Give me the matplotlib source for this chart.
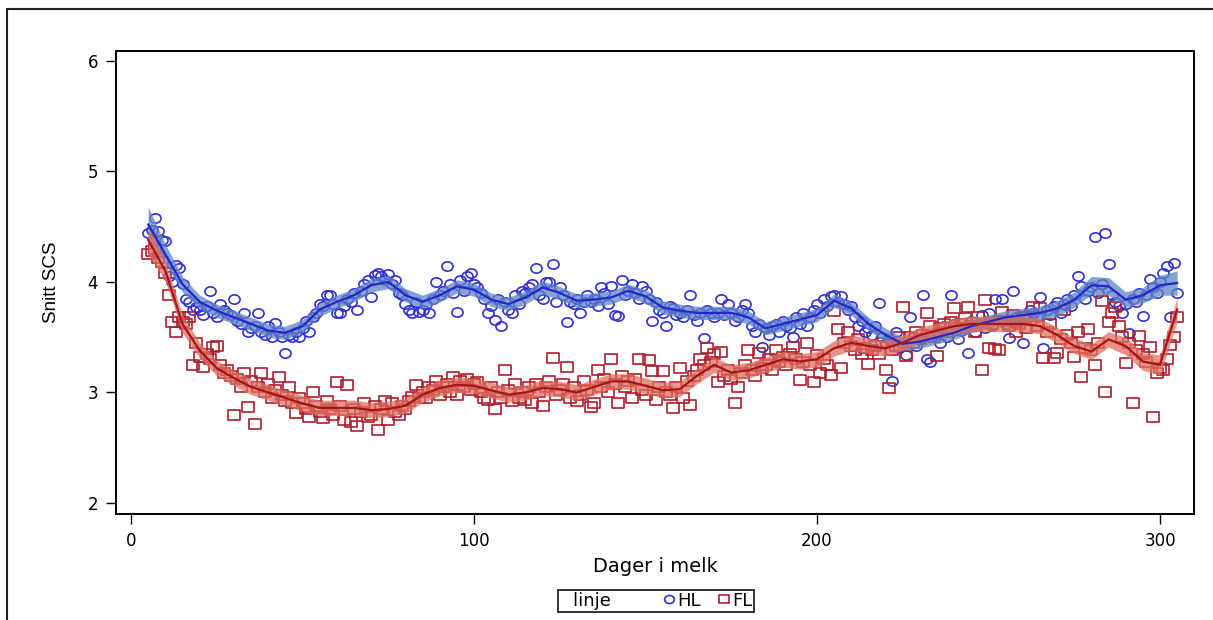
import numpy as np
import matplotlib.pyplot as plt
from matplotlib.lines import Line2D
from matplotlib.patches import Rectangle
from matplotlib.path import Path
from matplotlib.transforms import Affine2D

plt.rcParams['font.family'] = ['DejaVu Sans']

# days in milk, one mean per day
days = list(range(5, 306))

# HL group, daily mean SCS
hl_scs = [
    4.44, 4.47, 4.58, 4.46, 4.38, 4.37, 4.05, 4.00, 4.15, 4.13,
    3.98, 3.85, 3.82, 3.75, 3.77, 3.75, 3.70, 3.78, 3.92, 3.72,
    3.68, 3.80, 3.75, 3.72, 3.70, 3.85, 3.65, 3.62, 3.72, 3.55,
    3.58, 3.60, 3.72, 3.55, 3.52, 3.60, 3.50, 3.63, 3.55, 3.50,
    3.36, 3.52, 3.50, 3.55, 3.50, 3.58, 3.65, 3.55, 3.68, 3.72,
    3.80, 3.78, 3.88, 3.88, 3.80, 3.72, 3.72, 3.78, 3.85, 3.82,
    3.90, 3.75, 3.92, 3.98, 4.02, 3.86, 4.06, 4.08, 4.05, 4.02,
    4.07, 3.98, 4.02, 3.90, 3.88, 3.80, 3.75, 3.72, 3.82, 3.73,
    3.75, 3.80, 3.72, 3.85, 4.00, 3.88, 3.92, 4.14, 3.98, 3.90,
    3.73, 4.02, 3.92, 4.05, 4.08, 3.98, 3.95, 3.90, 3.85, 3.72,
    3.78, 3.66, 3.85, 3.60, 3.82, 3.75, 3.72, 3.88, 3.80, 3.92,
    3.90, 3.95, 3.98, 4.13, 3.88, 3.85, 4.00, 4.00, 4.16, 3.82,
    3.95, 3.88, 3.64, 3.82, 3.80, 3.85, 3.72, 3.82, 3.88, 3.82,
    3.85, 3.78, 3.95, 3.90, 3.80, 3.96, 3.70, 3.69, 4.02, 3.88,
    3.92, 3.98, 3.90, 3.85, 3.96, 3.92, 3.85, 3.65, 3.82, 3.75,
    3.72, 3.60, 3.78, 3.76, 3.70, 3.72, 3.68, 3.75, 3.88, 3.70,
    3.65, 3.72, 3.49, 3.75, 3.72, 3.68, 3.72, 3.85, 3.70, 3.80,
    3.72, 3.65, 3.68, 3.75, 3.80, 3.72, 3.60, 3.55, 3.62, 3.41,
    3.58, 3.52, 3.60, 3.62, 3.55, 3.65, 3.60, 3.58, 3.50, 3.68,
    3.62, 3.72, 3.60, 3.68, 3.75, 3.80, 3.72, 3.85, 3.78, 3.87,
    3.88, 3.82, 3.87, 3.80, 3.75, 3.78, 3.68, 3.60, 3.65, 3.55,
    3.58, 3.52, 3.60, 3.81, 3.50, 3.45, 3.48, 3.10, 3.55, 3.40,
    3.45, 3.34, 3.68, 3.50, 3.42, 3.48, 3.88, 3.30, 3.28, 3.52,
    3.55, 3.45, 3.60, 3.50, 3.88, 3.62, 3.48, 3.56, 3.58, 3.36,
    3.65, 3.55, 3.62, 3.70, 3.58, 3.72, 3.60, 3.85, 3.66, 3.85,
    3.62, 3.49, 3.92, 3.68, 3.65, 3.45, 3.70, 3.75, 3.72, 3.68,
    3.86, 3.40, 3.75, 3.70, 3.78, 3.82, 3.72, 3.80, 3.85, 3.78,
    3.88, 4.05, 3.96, 3.85, 3.92, 3.95, 4.41, 3.90, 3.98, 4.44,
    4.16, 3.88, 3.82, 3.78, 3.72, 3.80, 3.54, 3.85, 3.82, 3.90,
    3.69, 3.88, 4.03, 3.95, 3.90, 4.00, 4.08, 4.14, 3.68, 4.17,
    3.90,
]

# FL group, daily mean SCS
fl_scs = [
    4.25, 4.28, 4.30, 4.22, 4.18, 4.08, 3.88, 3.64, 3.55, 3.68,
    3.64, 3.62, 3.68, 3.25, 3.45, 3.32, 3.23, 3.35, 3.30, 3.41,
    3.42, 3.25, 3.18, 3.20, 3.15, 2.80, 3.12, 3.05, 3.18, 2.87,
    3.10, 2.71, 3.05, 3.18, 3.00, 3.08, 2.95, 3.02, 3.14, 2.98,
    2.92, 3.05, 2.90, 2.81, 2.95, 2.90, 2.85, 2.78, 3.00, 2.88,
    2.82, 2.77, 2.92, 2.85, 2.80, 3.09, 2.88, 2.75, 3.07, 2.73,
    2.85, 2.70, 2.82, 2.90, 2.78, 2.80, 2.88, 2.66, 2.85, 2.92,
    2.75, 2.90, 2.82, 2.80, 2.88, 2.85, 2.92, 2.96, 3.07, 2.95,
    3.00, 2.95, 3.05, 3.02, 3.10, 2.98, 3.05, 3.08, 3.00, 3.14,
    2.98, 3.10, 3.05, 3.12, 3.02, 3.08, 3.09, 3.00, 2.95, 2.93,
    3.05, 2.85, 3.00, 2.95, 3.20, 3.02, 2.92, 3.08, 2.95, 3.00,
    2.93, 3.05, 2.90, 3.08, 3.00, 2.88, 3.05, 3.10, 3.31, 2.98,
    3.02, 3.08, 3.23, 2.95, 3.05, 2.92, 2.98, 3.10, 3.02, 2.87,
    2.90, 3.20, 3.05, 3.12, 3.00, 3.30, 3.08, 2.90, 3.15, 3.05,
    3.10, 2.95, 3.12, 3.30, 3.02, 2.98, 3.29, 3.19, 2.93, 3.05,
    3.19, 3.00, 2.98, 2.86, 3.05, 3.22, 2.95, 3.10, 2.89, 3.15,
    3.20, 3.30, 3.25, 3.40, 3.28, 3.35, 3.09, 3.37, 3.15, 3.20,
    3.12, 2.90, 3.05, 3.18, 3.25, 3.38, 3.20, 3.15, 3.36, 3.22,
    3.25, 3.30, 3.20, 3.38, 3.28, 3.32, 3.25, 3.35, 3.41, 3.30,
    3.11, 3.28, 3.45, 3.25, 3.09, 3.34, 3.18, 3.30, 3.25, 3.16,
    3.74, 3.57, 3.22, 3.45, 3.55, 3.42, 3.38, 3.48, 3.35, 3.40,
    3.26, 3.38, 3.42, 3.35, 3.45, 3.20, 3.04, 3.38, 3.42, 3.50,
    3.77, 3.33, 3.50, 3.45, 3.55, 3.48, 3.52, 3.72, 3.60, 3.50,
    3.33, 3.58, 3.62, 3.55, 3.64, 3.76, 3.58, 3.62, 3.67, 3.77,
    3.60, 3.55, 3.68, 3.20, 3.84, 3.40, 3.62, 3.39, 3.38, 3.73,
    3.65, 3.60, 3.70, 3.55, 3.62, 3.68, 3.58, 3.66, 3.77, 3.60,
    3.76, 3.31, 3.55, 3.62, 3.31, 3.36, 3.48, 3.75, 3.52, 3.45,
    3.32, 3.55, 3.14, 3.40, 3.57, 3.38, 3.25, 3.45, 3.83, 3.00,
    3.64, 3.72, 3.77, 3.60, 3.50, 3.27, 3.45, 2.90, 3.38, 3.51,
    3.35, 3.28, 3.41, 2.78, 3.18, 3.22, 3.20, 3.30, 3.43, 3.50,
    3.68,
]

# smoothed curves with confidence band, read every 5 days
smooth_days = list(range(5, 306, 5))
hl_smooth = [
    4.52, 4.25, 3.98, 3.82, 3.74, 3.68, 3.62, 3.56, 3.54, 3.60,
    3.75, 3.82, 3.88, 3.97, 4.00, 3.88, 3.82, 3.88, 3.96, 3.93,
    3.84, 3.80, 3.86, 3.95, 3.90, 3.83, 3.84, 3.86, 3.92, 3.87,
    3.77, 3.74, 3.72, 3.72, 3.72, 3.68, 3.58, 3.62, 3.66, 3.70,
    3.83, 3.76, 3.62, 3.52, 3.44, 3.46, 3.50, 3.54, 3.60, 3.64,
    3.68, 3.70, 3.72, 3.76, 3.84, 3.97, 3.96, 3.84, 3.88, 3.97,
    3.99,
]
hl_half = [
    0.16, 0.09, 0.07, 0.06, 0.06, 0.06, 0.06, 0.06, 0.06, 0.06,
    0.06, 0.06, 0.06, 0.06, 0.06, 0.06, 0.06, 0.06, 0.06, 0.06,
    0.06, 0.06, 0.06, 0.06, 0.06, 0.06, 0.06, 0.06, 0.06, 0.06,
    0.06, 0.06, 0.06, 0.06, 0.06, 0.06, 0.06, 0.06, 0.06, 0.06,
    0.06, 0.06, 0.06, 0.06, 0.06, 0.06, 0.06, 0.06, 0.06, 0.06,
    0.06, 0.06, 0.06, 0.07, 0.07, 0.08, 0.08, 0.07, 0.07, 0.09,
    0.11,
]
fl_smooth = [
    4.38, 4.10, 3.62, 3.38, 3.22, 3.13, 3.05, 3.00, 2.95, 2.90,
    2.86, 2.86, 2.86, 2.84, 2.85, 2.88, 2.98, 3.04, 3.07, 3.06,
    3.02, 2.98, 3.00, 3.04, 3.03, 3.00, 3.05, 3.10, 3.10, 3.06,
    3.02, 3.03, 3.15, 3.25, 3.18, 3.20, 3.25, 3.30, 3.28, 3.30,
    3.40, 3.45, 3.42, 3.40, 3.45, 3.52, 3.56, 3.60, 3.62, 3.62,
    3.62, 3.62, 3.60, 3.52, 3.42, 3.37, 3.48, 3.42, 3.28, 3.25,
    3.75,
]
fl_half = [
    0.13, 0.09, 0.08, 0.07, 0.07, 0.07, 0.07, 0.07, 0.07, 0.07,
    0.07, 0.07, 0.07, 0.07, 0.07, 0.07, 0.07, 0.07, 0.07, 0.07,
    0.07, 0.07, 0.07, 0.07, 0.07, 0.07, 0.07, 0.07, 0.07, 0.07,
    0.07, 0.07, 0.07, 0.07, 0.07, 0.07, 0.07, 0.07, 0.07, 0.07,
    0.07, 0.07, 0.07, 0.07, 0.07, 0.07, 0.07, 0.07, 0.07, 0.07,
    0.07, 0.07, 0.07, 0.07, 0.07, 0.07, 0.07, 0.08, 0.08, 0.09,
    0.11,
]

hl_col = '#2f2fd6'
fl_col = '#b01c2c'

# the original output is a little wider than tall, so are its markers
oval = Path.unit_circle().transformed(Affine2D().scale(1.2, 1.0))
box = Path([(-0.65, -0.5), (0.65, -0.5), (0.65, 0.5), (-0.65, 0.5), (-0.65, -0.5)],
           [Path.MOVETO, Path.LINETO, Path.LINETO, Path.LINETO, Path.CLOSEPOLY])

fig = plt.figure(figsize=(12.13, 6.2), dpi=100)
ax = fig.add_axes([0.0956, 0.171, 0.8887, 0.7467])

# outer border of the graph area
fig.patches.append(Rectangle((7 / 1213, -0.05), 1.2, 1.05 - 9 / 620,
                             transform=fig.transFigure, fill=False,
                             edgecolor='#202020', lw=1.5))

ax.plot(days, hl_scs, ls='none', marker=oval, ms=8, mfc='none',
        mec=hl_col, mew=1.2, zorder=2)
ax.plot(days, fl_scs, ls='none', marker=box, ms=8.5, mfc='none',
        mec=fl_col, mew=1.2, zorder=2)

hs = np.array(hl_smooth)
hh = np.array(hl_half)
fs = np.array(fl_smooth)
fh = np.array(fl_half)
ax.fill_between(smooth_days, hs - hh, hs + hh, color='#5f84c6', alpha=0.75,
                lw=0, zorder=3)
ax.fill_between(smooth_days, fs - fh, fs + fh, color='#dd705e', alpha=0.75,
                lw=0, zorder=3)
ax.plot(smooth_days, hl_smooth, color='#2626cc', lw=1.6, zorder=4)
ax.plot(smooth_days, fl_smooth, color='#a8141e', lw=1.6, zorder=4)

ax.set_xlim(-4.4, 309.9)
ax.set_ylim(1.9, 6.09)
ax.set_xticks([0, 100, 200, 300])
ax.set_yticks([2, 3, 4, 5, 6])
ax.tick_params(direction='out', length=7, width=1, labelsize=12, pad=6)
for s in ax.spines.values():
    s.set_linewidth(1.4)

ax.set_xlabel('Dager i melk', fontsize=14, labelpad=5)
ax.set_ylabel('Snitt SCS', fontsize=13.5, labelpad=20,
              family=['Liberation Sans', 'DejaVu Sans'])

handles = [Line2D([], [], ls='none'),
           Line2D([], [], ls='none', marker=oval, ms=7, mfc='none', mec=hl_col, mew=1.2),
           Line2D([], [], ls='none', marker=box, ms=7, mfc='none', mec=fl_col, mew=1.2)]
leg = fig.legend(handles, ['linje      ', 'HL', 'FL'], ncol=3, loc='center',
                 bbox_to_anchor=(0.541, 0.031), frameon=True, fancybox=False,
                 edgecolor='black', fontsize=13, handlelength=0.6,
                 handletextpad=0.15, columnspacing=1.0, borderpad=0.1)
leg.get_frame().set_linewidth(1.4)

fig.savefig('out.png', dpi=100)
